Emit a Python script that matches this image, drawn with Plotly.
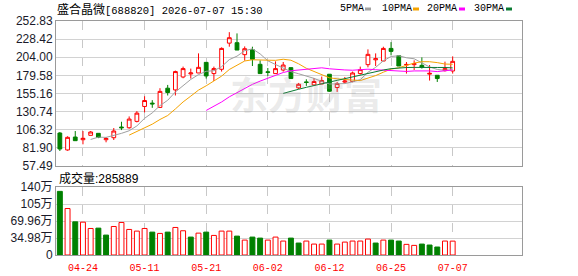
import plotly.graph_objects as go
import pandas as pd

# ---------------- data ----------------
dates = ["04-21", "04-22", "04-23", "04-24", "04-27", "04-28", "04-29", "04-30",
         "05-06", "05-07", "05-08", "05-11", "05-12", "05-13", "05-14", "05-15",
         "05-18", "05-19", "05-20", "05-21", "05-22", "05-25", "05-26", "05-27",
         "05-28", "05-29", "06-01", "06-02", "06-03", "06-04", "06-05", "06-08",
         "06-09", "06-10", "06-11", "06-12", "06-15", "06-16", "06-17", "06-18",
         "06-22", "06-23", "06-24", "06-25", "06-26", "06-29", "06-30", "07-01",
         "07-02", "07-03", "07-06", "07-07"]
opens = [101.9, 79.1, 96.5, 92.9, 98.8, 101.5, 92.9, 95.6, 110.0, 109.0,
         117.6, 137.7, 142.2, 136.4, 162.3, 160.0, 177.4, 181.5, 182.8, 197.1,
         182.0, 187.8, 223.0, 223.6, 207.5, 214.2, 194.5, 184.3, 182.0, 186.8,
         190.0, 162.7, 170.8, 166.7, 168.0, 181.1, 163.2, 170.5, 171.3, 182.0,
         194.0, 200.5, 198.9, 215.9, 206.1, 193.6, 194.0, 193.1, 181.3, 179.7,
         186.0, 185.5]
highs = [103.2, 97.5, 104.6, 104.6, 104.6, 101.5, 96.5, 108.6, 117.1, 124.3,
         131.4, 151.5, 146.2, 162.3, 166.7, 186.0, 191.4, 188.7, 209.2, 197.1,
         191.4, 217.3, 237.8, 236.1, 218.6, 218.2, 199.8, 189.5, 198.5, 197.6,
         190.0, 169.4, 174.3, 176.1, 178.0, 181.1, 170.7, 177.4, 184.7, 191.4,
         214.6, 209.2, 218.2, 224.4, 206.1, 197.6, 199.8, 203.8, 193.5, 179.7,
         198.1, 205.2]
lows = [77.7, 78.1, 91.6, 86.7, 98.8, 95.0, 89.4, 92.5, 105.9, 107.7,
        116.2, 129.7, 135.9, 136.0, 152.5, 152.5, 175.7, 175.3, 182.8, 175.3,
        172.0, 184.7, 218.2, 213.7, 199.4, 192.2, 182.0, 178.8, 182.0, 184.7,
        175.3, 161.3, 165.4, 166.7, 168.0, 157.3, 157.3, 168.6, 170.3, 180.7,
        190.4, 192.2, 198.9, 206.5, 192.2, 182.0, 186.8, 188.7, 172.6, 170.7,
        184.7, 182.0]
closes = [80.4, 96.1, 91.6, 94.8, 103.3, 96.0, 94.5, 104.6, 109.0, 120.7,
          128.7, 145.7, 141.2, 158.0, 156.5, 184.7, 188.7, 182.8, 190.4, 178.8,
          188.7, 215.9, 230.3, 213.7, 215.5, 201.2, 182.0, 183.7, 188.7, 193.5,
          175.3, 167.6, 170.0, 171.3, 172.6, 158.2, 168.6, 172.0, 182.8, 187.3,
          207.9, 202.1, 215.9, 211.9, 192.2, 194.3, 195.4, 190.4, 182.3, 175.3,
          188.7, 198.5]
volumes_wan = [131.0, 95.7, 68.3, 67.6, 54.6, 55.3, 41.0, 58.7, 67.0, 52.6,
               49.2, 54.6, 47.1, 44.4, 47.1, 56.7, 49.9, 36.9, 45.0, 47.1,
               40.3, 49.2, 49.2, 38.9, 30.7, 36.9, 34.8, 30.7, 36.9, 28.7,
               34.8, 24.6, 28.7, 22.5, 22.5, 30.7, 22.5, 26.6, 28.7, 28.7,
               32.8, 24.6, 30.7, 30.7, 28.7, 21.9, 19.8, 22.5, 20.5, 16.4,
               28.7, 28.59]

price_ticks = [57.49, 81.90, 106.32, 130.74, 155.16, 179.58, 204.00, 228.42, 252.83]
vol_ticks = [0, 34.98, 69.96, 105, 140]
vol_tick_text = ["0", "34.98万", "69.96万", "105万", "140万"]
date_ticks = ["04-24", "05-11", "05-21", "06-02", "06-12", "06-25", "07-07"]
ma_periods = [5, 10, 20, 30]
ma_names = ["5PMA", "10PMA", "20PMA", "30PMA"]
ma_colors = ["#a0a0a0", "#f5a300", "#ff00ff", "#0a7a32"]
title_name = "盛合晶微"
title_rest = "[688820] 2026-07-07 15:30"
vol_label_name = "成交量"
vol_label_value = ":285889"

# ---------------- layout helpers ----------------
W, H = 578, 276
L, R, T, B = 56, 522, 21, 255


def px(x):
    return (x - L) / (R - L)


def py(y):
    return (B - y) / (B - T)


RED = "#ff0000"
GREEN = "#008000"

idx = list(range(len(dates)))
tick_idx = [dates.index(d) for d in date_ticks]

# volume colours: change vs previous close
vol_fill, vol_line = [], []
for i in idx:
    ref = closes[i - 1] if i > 0 else opens[i]
    up = closes[i] >= ref
    vol_fill.append("white" if up else GREEN)
    vol_line.append(RED if up else GREEN)

fig = go.Figure()

fig.add_trace(go.Candlestick(
    x=idx, open=opens, high=highs, low=lows, close=closes,
    increasing=dict(line=dict(color=RED, width=1), fillcolor="white"),
    decreasing=dict(line=dict(color=GREEN, width=1), fillcolor=GREEN),
    whiskerwidth=0, xaxis="x", yaxis="y", hoverinfo="skip",
))

cs = pd.Series(closes)
for p, c in zip(ma_periods, ma_colors):
    ma = cs.rolling(p).mean()
    fig.add_trace(go.Scatter(
        x=idx, y=ma, mode="lines", line=dict(color=c, width=1),
        xaxis="x", yaxis="y", hoverinfo="skip",
    ))

fig.add_trace(go.Bar(
    x=idx, y=volumes_wan, width=0.64,
    marker=dict(color=vol_fill, line=dict(color=vol_line, width=1)),
    xaxis="x2", yaxis="y2", hoverinfo="skip",
))

grid_h = "#d2d2d2"
grid_v = "#c8c8c8"
border = "#9a9a9a"
ytick_font = dict(family="Liberation Sans, Arial, sans-serif", size=12, color="#1a1a2a")

xcommon = dict(range=[-0.5, 60], tickmode="array", tickvals=tick_idx, ticktext=date_ticks,
               showgrid=True, gridcolor=grid_v, griddash="dash", gridwidth=1,
               showline=True, mirror=True, linecolor=border, linewidth=1,
               zeroline=False, ticks="", fixedrange=True, automargin=False)

fig.update_layout(
    width=W, height=H,
    margin=dict(l=L, r=W - R, t=T, b=H - B, pad=0, autoexpand=False),
    paper_bgcolor="white", plot_bgcolor="white",
    showlegend=False,
    bargap=0.3,
    xaxis=dict(domain=[0, 1], anchor="y", showticklabels=False,
               rangeslider=dict(visible=False), **xcommon),
    yaxis=dict(domain=[py(166), 1], anchor="x", range=[price_ticks[0], price_ticks[-1]],
               tickmode="array", tickvals=price_ticks,
               ticktext=[f"{v:.2f}" for v in price_ticks],
               showgrid=True, gridcolor=grid_h, gridwidth=1,
               showline=True, mirror=True, linecolor=border, linewidth=1,
               zeroline=False, ticks="", tickfont=ytick_font, fixedrange=True,
               automargin=False),
    xaxis2=dict(domain=[0, 1], anchor="y2", showticklabels=True,
                tickfont=dict(family="Liberation Mono, monospace", size=10, color=RED),
                ticklabelstandoff=3, **xcommon),
    yaxis2=dict(domain=[0, py(187)], anchor="x2", range=[0, 140],
                tickmode="array", tickvals=vol_ticks, ticktext=vol_tick_text,
                showgrid=True, gridcolor=grid_h, gridwidth=1,
                showline=True, mirror=True, linecolor=border, linewidth=1,
                zeroline=False, ticks="",
                tickfont=dict(family="Liberation Sans, Noto Sans CJK SC, sans-serif",
                              size=12, color="#1a1a2a"), fixedrange=True,
                automargin=False),
)

annotations = []
# watermark
annotations.append(dict(
    xref="paper", yref="paper", x=px(306), y=py(92), xanchor="center", yanchor="middle",
    text="<b>东方财富</b>", showarrow=False,
    font=dict(family="Noto Sans CJK SC", size=38, color="rgba(150,150,150,0.2)"),
))
# title
annotations.append(dict(
    xref="paper", yref="paper", x=px(55), y=py(8.5), xanchor="left", yanchor="middle",
    text=f'<span style="font-family:Noto Sans CJK SC;font-size:12px">{title_name}</span>{title_rest}',
    showarrow=False, font=dict(family="Liberation Mono, monospace", size=10.5, color="#000"),
))
# volume label
annotations.append(dict(
    xref="paper", yref="paper", x=px(57), y=py(177), xanchor="left", yanchor="middle",
    text=f'<span style="font-family:Noto Sans CJK SC;font-size:12px">{vol_label_name}</span>{vol_label_value}',
    showarrow=False, font=dict(family="Liberation Sans, Arial, sans-serif", size=12, color="#000"),
))
# MA legend
legend_x = [338, 380, 425, 472]
mark_x = [365, 413, 459, 506]
shapes = []
for name, c, lx, mx in zip(ma_names, ma_colors, legend_x, mark_x):
    annotations.append(dict(
        xref="paper", yref="paper", x=px(lx), y=py(9), xanchor="left", yanchor="middle",
        text=name, showarrow=False,
        font=dict(family="Liberation Mono, monospace", size=10, color="#000"),
    ))
    shapes.append(dict(type="rect", xref="paper", yref="paper",
                       x0=px(mx), x1=px(mx + 6), y0=py(10.5), y1=py(7.5),
                       fillcolor=c, line=dict(width=0)))

fig.update_layout(annotations=annotations, shapes=shapes)
fig.write_html("out.html")
